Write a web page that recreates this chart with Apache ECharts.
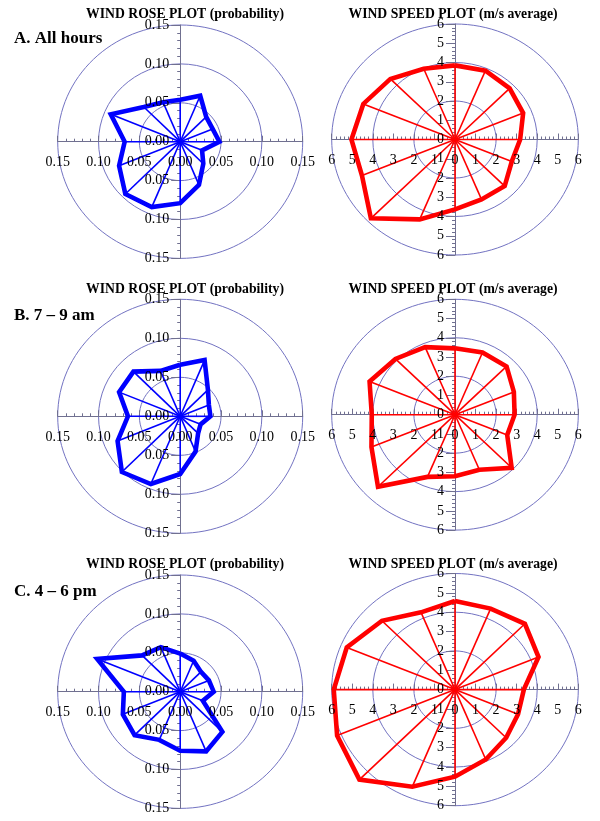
<!DOCTYPE html>
<html><head><meta charset="utf-8">
<script src="https://cdn.jsdelivr.net/npm/echarts@6/dist/echarts.min.js"></script>
<style>html,body{margin:0;padding:0;background:#fff}#c{width:600px;height:821px}</style>
</head><body><div id="c"></div>
<script>
// 16 compass directions, clockwise from North (top)
const directions = ['N','NNE','NE','ENE','E','ESE','SE','SSE','S','SSW','SW','WSW','W','WNW','NW','NNW'];

// Wind rose probabilities
const roseAllHours = [0.054,0.064,0.045,0.043,0.048,0.029,0.040,0.060,0.079,0.091,0.095,0.081,0.068,0.092,0.063,0.055];
const roseMorning  = [0.066,0.078,0.048,0.038,0.037,0.027,0.031,0.049,0.074,0.094,0.101,0.083,0.064,0.081,0.081,0.063];
const roseEvening  = [0.049,0.043,0.036,0.038,0.041,0.030,0.073,0.083,0.076,0.067,0.079,0.076,0.069,0.110,0.066,0.062];

// Average wind speed (m/s)
const speedAllHours = [3.85,3.87,3.76,3.59,3.17,2.99,3.42,3.37,3.63,4.49,5.79,4.90,5.04,4.83,4.45,3.98];
const speedMorning  = [3.45,3.50,3.55,3.10,2.90,2.75,3.90,3.10,3.20,3.50,5.30,4.40,4.05,4.50,4.10,3.80];
const speedEvening  = [4.58,4.53,4.81,4.40,3.35,3.32,3.52,3.91,4.50,5.43,6.58,6.21,5.90,5.70,5.03,4.32];

// Reference circles and axis ranges
const roseRings = [0.05, 0.10, 0.15];
const speedRings = [2, 4, 6];
const roseMax = 0.15, roseStep = 0.05;
const speedMax = 6, speedStep = 1;

const rowLabels = ['A. All hours', 'B. 7 \u2013 9 am', 'C. 4 \u2013 6 pm'];
const roseTitle = 'WIND ROSE PLOT (probability)';
const speedTitle = 'WIND SPEED PLOT (m/s average)';

const FONT = '"Liberation Serif","Times New Roman",serif';
const ringColor = '#7373c2';
const axisColor = '#707090';

const panels = [
  {values: roseAllHours,  rings: roseRings,  max: roseMax,  step: roseStep,  dec: 2, color: '#0000ff', box: {left: 57.7, top: 25.0, width: 245, height: 233.4}},
  {values: speedAllHours, rings: speedRings, max: speedMax, step: speedStep, dec: 0, color: '#ff0000', box: {left: 331.7, top: 24.0, width: 246.6, height: 231}},
  {values: roseMorning,   rings: roseRings,  max: roseMax,  step: roseStep,  dec: 2, color: '#0000ff', box: {left: 57.7, top: 299.3, width: 245, height: 234}},
  {values: speedMorning,  rings: speedRings, max: speedMax, step: speedStep, dec: 0, color: '#ff0000', box: {left: 331.7, top: 299.3, width: 246.6, height: 230.8}},
  {values: roseEvening,   rings: roseRings,  max: roseMax,  step: roseStep,  dec: 2, color: '#0000ff', box: {left: 57.7, top: 575.0, width: 245, height: 233.4}},
  {values: speedEvening,  rings: speedRings, max: speedMax, step: speedStep, dec: 0, color: '#ff0000', box: {left: 331.7, top: 573.5, width: 246.6, height: 232.2}}
];

const grids = [], xAxes = [], yAxes = [], series = [];

function angleOf(i) { return i * 2 * Math.PI / directions.length; }

panels.forEach((p, g) => {
  grids.push(Object.assign({}, p.box));
  const fmt = v => Math.abs(v).toFixed(p.dec);
  const base = {type: 'value', gridIndex: g, min: -p.max, max: p.max, interval: p.step, splitLine: {show: false}};
  const xi = xAxes.length, yi = yAxes.length;
  const lineAxis = (otherIdx, inside, majorLen) => Object.assign({}, base, {
    z: 1,
    axisLine: {show: true, onZero: true, onZeroAxisIndex: otherIdx, lineStyle: {color: axisColor, width: 1}},
    axisTick: {show: true, inside: inside, length: majorLen, lineStyle: {color: axisColor, width: 1}},
    minorTick: {show: true, splitNumber: 5, length: 3, lineStyle: {color: axisColor, width: 1}},
    axisLabel: {show: false}
  });
  // label-only axes, shifted into the middle of the grid so labels sit beside the crossing axes
  const labelAxis = (pos, offset, margin) => Object.assign({}, base, {
    z: 10, position: pos, offset: offset,
    axisLine: {show: false, onZero: false},
    axisTick: {show: false},
    axisLabel: {show: true, formatter: fmt, fontFamily: FONT, fontSize: 14, color: '#000', margin: margin}
  });
  xAxes.push(lineAxis(yi, true, 6), labelAxis('bottom', -p.box.height / 2, 14));
  yAxes.push(lineAxis(xi, false, 9), labelAxis('left', -p.box.width / 2, 11));

  // reference circles
  series.push({
    type: 'custom', xAxisIndex: xi, yAxisIndex: yi, z: 1, silent: true,
    data: p.rings.map(r => [r]),
    renderItem: (params, api) => {
      const r = api.value(0);
      const c = api.coord([0, 0]);
      const s = api.size([r, r]);
      return {type: 'ellipse', shape: {cx: c[0], cy: c[1], rx: s[0], ry: s[1]},
              style: {fill: 'none', stroke: ringColor, lineWidth: 1}};
    }
  });
  // spokes
  series.push({
    type: 'custom', xAxisIndex: xi, yAxisIndex: yi, z: 3, silent: true,
    data: p.values.map((v, i) => [i, v]),
    renderItem: (params, api) => {
      const a = angleOf(api.value(0)), v = api.value(1);
      const c = api.coord([0, 0]);
      const e = api.coord([v * Math.sin(a), v * Math.cos(a)]);
      return {type: 'line', shape: {x1: c[0], y1: c[1], x2: e[0], y2: e[1]},
              style: {stroke: p.color, lineWidth: 1.6}};
    }
  });
  // outline polygon
  const pts = p.values.map((v, i) => [v * Math.sin(angleOf(i)), v * Math.cos(angleOf(i))]);
  pts.push(pts[0]);
  series.push({
    type: 'line', xAxisIndex: xi, yAxisIndex: yi, z: 4, silent: true,
    data: pts, symbol: 'none', animation: false,
    lineStyle: {color: p.color, width: 4.6, join: 'miter', miterLimit: 6}
  });
});

const titleStyle = {fontFamily: FONT, fontSize: 13.7, fontWeight: 'bold', color: '#000'};
const labelStyle = {fontFamily: FONT, fontSize: 17, fontWeight: 'bold', color: '#000'};
const titleTops = [7.5, 282, 557];
const labelTops = [30.5, 307.5, 583.5];
const titles = [];
titleTops.forEach((t, r) => {
  titles.push({text: roseTitle, left: 185, top: t, textAlign: 'center', padding: 0, textStyle: titleStyle});
  titles.push({text: speedTitle, left: 453, top: t, textAlign: 'center', padding: 0, textStyle: titleStyle});
  titles.push({text: rowLabels[r], left: 14, top: labelTops[r], padding: 0, textStyle: labelStyle});
});

const chart = echarts.init(document.getElementById('c'));
chart.setOption({
  backgroundColor: '#fff',
  animation: false,
  title: titles,
  grid: grids,
  xAxis: xAxes,
  yAxis: yAxes,
  series: series
});
</script>
</body></html>
